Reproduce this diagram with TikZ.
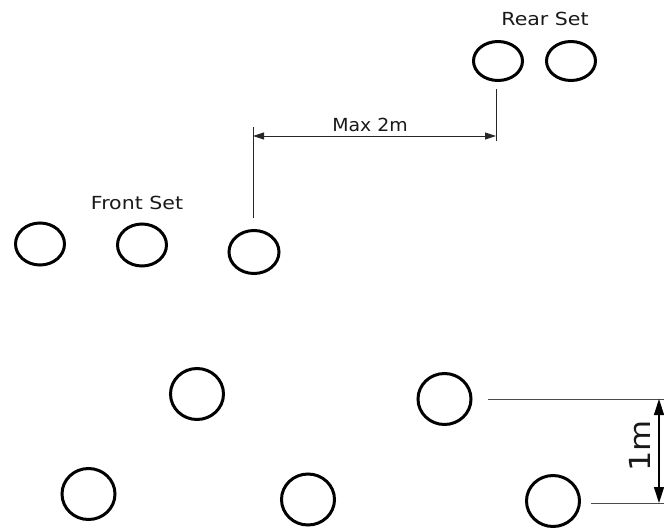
\documentclass[tikz,border=0pt]{standalone}
\usepackage{fontspec}
\setmainfont{DejaVu Sans}
\usetikzlibrary{shapes.geometric,arrows.meta}
\begin{document}
\begin{tikzpicture}[x=1pt,y=-1pt,
  cone/.style={draw=black,line width=3pt,ellipse,inner sep=0pt,outer sep=0pt},
  topcone/.style={cone,minimum width=49pt,minimum height=39pt},
  frontcone/.style={cone,minimum width=49pt,minimum height=42pt},
  botcone/.style={cone,minimum width=53pt,minimum height=51pt},
  dimline/.style={draw=black!85,line width=0.9pt},
  lbl/.style={inner sep=0pt,text=black!90,font=\fontsize{18}{21}\selectfont,xscale=1.14}]
\useasboundingbox (0,0) rectangle (664,530);
% rear set
\node[topcone] (r1) at (498,61) {};
\node[topcone] (r2) at (571,61) {};
\node[lbl] (rear) at (545,19) {Rear Set};
% front set
\node[frontcone] (f1) at (40,244) {};
\node[frontcone] (f2) at (142,245) {};
\node[cone,minimum width=50pt,minimum height=43pt] (f3) at (254,252) {};
\node[lbl] (front) at (137,203) {Front Set};
% max 2m
\coordinate (a1) at (496,89);
\coordinate (a2) at (496,141);
\coordinate (b1) at (253,127);
\coordinate (b2) at (253,218);
\coordinate (m1) at (253,136);
\coordinate (m2) at (496,136);
\draw[dimline] (a1) -- (a2);
\draw[dimline] (b1) -- (b2);
\draw[dimline,{Triangle[length=11pt,width=7pt]}-{Triangle[length=11pt,width=7pt]}] (m1) -- (m2);
\node[lbl,xscale=0.92] (max) at (370,125) {Max 2m};
% bottom cones
\node[botcone] (c1) at (197,394) {};
\node[botcone] (c2) at (444.5,399) {};
\node[botcone] (c3) at (88.5,494) {};
\node[botcone] (c4) at (308,499.5) {};
\node[botcone] (c5) at (553,501) {};
% 1m
\coordinate (h1) at (488,399);
\coordinate (h2) at (664,399);
\coordinate (k1) at (591,503);
\coordinate (k2) at (664,503);
\coordinate (v1) at (659,399);
\coordinate (v2) at (659,503);
\draw[dimline,draw=black!70] (h1) -- (h2);
\draw[dimline,draw=black!70] (k1) -- (k2);
\draw[line width=1.4pt,{Triangle[length=16pt,width=10pt]}-{Triangle[length=16pt,width=10pt]}] (v1) -- (v2);
\node[inner sep=0pt,text=black!90,font=\fontsize{29}{32}\selectfont,rotate=90,xscale=1.1] (one) at (640,446) {1m};
\end{tikzpicture}
\end{document}
